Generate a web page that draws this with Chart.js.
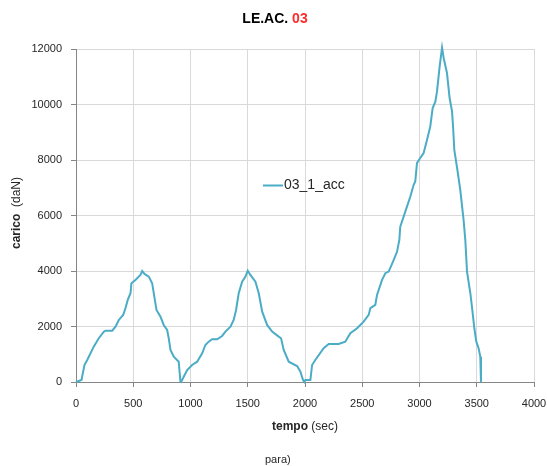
<!DOCTYPE html>
<html>
<head>
<meta charset="utf-8">
<script src="https://cdn.jsdelivr.net/npm/chart.js@4/dist/chart.umd.min.js"></script>
<style>
  html, body { margin: 0; padding: 0; background: #ffffff; }
  #wrap { width: 547px; height: 466px; }
</style>
</head>
<body>
<div id="wrap"><canvas id="c" width="547" height="466"></canvas></div>
<script>
// Test LE.AC. 03 — load history, series 03_1_acc
const seriesName = '03_1_acc';

// time (sec)
const timeSec = [
  0, 4, 48, 74, 98, 155, 199, 243, 258, 316, 345, 374, 412, 432, 452, 476, 484, 519, 563, 578,
  598, 636, 665, 703, 738, 766, 796, 810, 825, 854, 897, 912, 918,
  941, 971, 1014, 1058, 1102, 1130, 1159, 1189, 1233, 1276, 1305, 1349, 1377, 1398, 1421, 1451,
  1480, 1500, 1523, 1567, 1596, 1626, 1669, 1713, 1770, 1791, 1814, 1858, 1931, 1960, 1983, 1995,
  2003, 2047, 2062, 2090, 2163, 2207, 2294, 2352, 2396, 2455, 2512, 2556, 2571, 2614, 2629, 2673,
  2702, 2731, 2775, 2804, 2824, 2832, 2876, 2920, 2949, 2963, 2978, 2992, 3036, 3066, 3094, 3115,
  3139, 3153, 3176, 3197, 3211, 3240, 3263, 3284, 3293, 3304, 3333, 3356, 3385, 3400, 3415, 3444,
  3458, 3479, 3496, 3516, 3531, 3537, 3542
];

// load (daN)
const loadDaN = [
  0, 0, 72, 613, 793, 1273, 1576, 1814, 1850, 1850, 1994, 2236, 2417, 2658, 2958, 3199, 3560, 3679, 3859, 4000,
  3895, 3798, 3560, 2597, 2355, 2056, 1876, 1576, 1154, 913, 732, 11, 0,
  191, 433, 613, 732, 1035, 1335, 1454, 1540, 1540, 1659, 1814, 1994, 2236, 2597, 3199, 3618,
  3798, 4010, 3859, 3618, 3199, 2536, 2056, 1814, 1634, 1576, 1154, 732, 577, 371, 72, 0,
  72, 72, 613, 793, 1215, 1371, 1371, 1454, 1757, 1937, 2175, 2417, 2658, 2777, 3138, 3679,
  3921, 3978, 4400, 4700, 5122, 5601, 6142, 6683, 7105, 7224, 7888, 7982, 8249, 8729, 9208, 9872,
  10110, 10471, 11373, 12050, 11676, 11134, 10233, 9750, 9208, 8368, 7585, 6925, 5843, 5122, 3978, 3199,
  2716, 1937, 1454, 1215, 913, 11, 0
];

// axis ticks
const xTicks = [0, 500, 1000, 1500, 2000, 2500, 3000, 3500, 4000];
const yTicks = [0, 2000, 4000, 6000, 8000, 10000, 12000];

const points = timeSec.map((t, i) => ({ x: t, y: loadDaN[i] }));

const lineColor = '#4BACC6';
const textColor = '#262626';
const FONT = '"Liberation Sans", Arial, sans-serif';

// Titles, axis captions and the in-plot legend
const decorations = {
  id: 'decorations',
  afterDraw(chart) {
    const ctx = chart.ctx;
    ctx.save();
    ctx.textBaseline = 'middle';

    // Title: black part + red test number
    ctx.font = 'bold 14px ' + FONT;
    const t1 = 'LE.AC. ', t2 = '03';
    const w1 = ctx.measureText(t1).width, w2 = ctx.measureText(t2).width;
    let tx = 275 - (w1 + w2) / 2;
    ctx.textAlign = 'left';
    ctx.fillStyle = '#000000';
    ctx.fillText(t1, tx, 19);
    ctx.fillStyle = '#FF2A2A';
    ctx.fillText(t2, tx + w1, 19);

    // X axis caption
    ctx.font = 'bold 12px ' + FONT;
    const xa = 'tempo';
    const wa = ctx.measureText(xa).width;
    ctx.font = '12px ' + FONT;
    const xb = ' (sec)';
    const wb = ctx.measureText(xb).width;
    let xx = 305 - (wa + wb) / 2;
    ctx.fillStyle = textColor;
    ctx.font = 'bold 12px ' + FONT;
    ctx.fillText(xa, xx, 427);
    ctx.font = '12px ' + FONT;
    ctx.fillText(xb, xx + wa, 427);

    // Y axis caption (rotated)
    ctx.save();
    ctx.translate(17, 213);
    ctx.rotate(-Math.PI / 2);
    ctx.font = 'bold 12px ' + FONT;
    const ya = 'carico';
    const wya = ctx.measureText(ya).width;
    ctx.font = '12px ' + FONT;
    const yb = '  (daN)';
    const wyb = ctx.measureText(yb).width;
    let yx = -(wya + wyb) / 2;
    ctx.font = 'bold 12px ' + FONT;
    ctx.fillText(ya, yx, 0);
    ctx.font = '12px ' + FONT;
    ctx.fillText(yb, yx + wya, 0);
    ctx.restore();

    // Legend inside the plot
    ctx.strokeStyle = lineColor;
    ctx.lineWidth = 2;
    ctx.beginPath();
    ctx.moveTo(263, 185.5);
    ctx.lineTo(283, 185.5);
    ctx.stroke();
    ctx.font = '14px ' + FONT;
    ctx.fillStyle = textColor;
    ctx.fillText(seriesName, 284, 185);

    // footnote
    ctx.font = '11px ' + FONT;
    ctx.fillText('para)', 265, 460);

    ctx.restore();
  }
};

new Chart(document.getElementById('c'), {
  type: 'line',
  data: {
    datasets: [{
      label: seriesName,
      data: points,
      borderColor: lineColor,
      backgroundColor: lineColor,
      borderWidth: 2,
      pointRadius: 0,
      tension: 0,
      fill: false,
      clip: false
    }]
  },
  options: {
    responsive: false,
    animation: false,
    devicePixelRatio: 1,
    layout: { padding: { left: 0, right: 13, top: 49, bottom: 0 } },
    plugins: {
      legend: { display: false },
      title: { display: false },
      tooltip: { enabled: false }
    },
    scales: {
      x: {
        type: 'linear',
        min: 0,
        max: 4000,
        afterFit(scale) {
          scale.height = 84;
          scale.paddingLeft = 0;
          scale.paddingRight = 0;
        },
        afterBuildTicks(scale) { scale.ticks = xTicks.map(v => ({ value: v })); },
        grid: { color: '#d9d9d9', tickColor: '#868686', tickLength: 5, lineWidth: 1 },
        border: { color: '#868686', width: 1 },
        ticks: {
          color: textColor,
          font: { family: FONT, size: 11 },
          padding: 10,
          maxRotation: 0,
          autoSkip: false,
          callback: v => String(v)
        }
      },
      y: {
        type: 'linear',
        min: 0,
        max: 12000,
        afterFit(scale) {
          scale.width = 76;
          scale.paddingTop = 0;
          scale.paddingBottom = 0;
        },
        afterBuildTicks(scale) { scale.ticks = yTicks.map(v => ({ value: v })); },
        grid: { color: '#d9d9d9', tickColor: '#868686', tickLength: 5, lineWidth: 1 },
        border: { color: '#868686', width: 1 },
        ticks: {
          color: textColor,
          font: { family: FONT, size: 11 },
          padding: 9,
          autoSkip: false,
          callback: v => String(v)
        }
      }
    }
  },
  plugins: [decorations]
});
</script>
</body>
</html>
